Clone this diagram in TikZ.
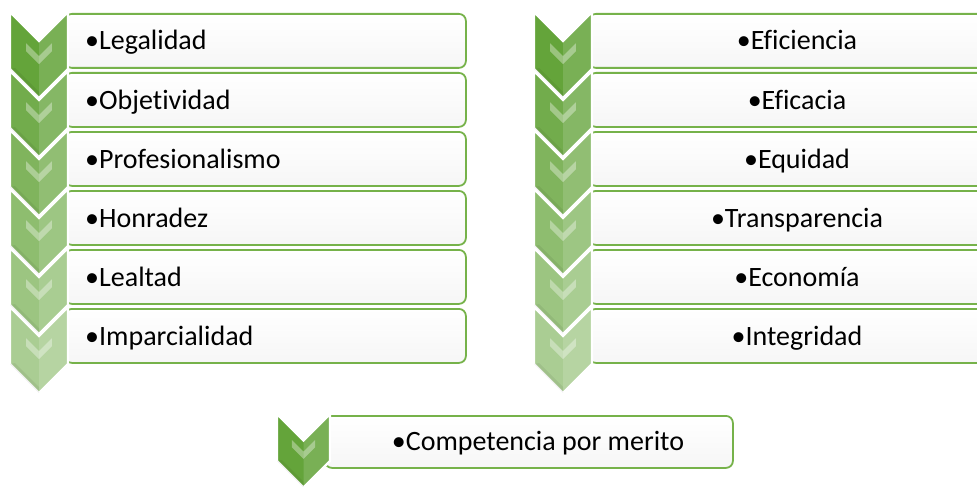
\documentclass[tikz,border=0pt]{standalone}
\usepackage{fontspec}
\setmainfont{Carlito}[Ligatures=NoCommon]
\definecolor{chevgreen}{RGB}{100,164,58}
\definecolor{boxgreen}{RGB}{118,178,74}
% a chevron: left, top, width, side height, fill
\newcommand\Chev[5]{%
	\filldraw[fill=#5,draw=white,line width=2.4pt]
	(#1,#2) -- ++(#3/2,#3/2) -- ++(#3/2,-#3/2) -- ++(0,#4)
	-- ++(-#3/2,#3/2) -- ++(-#3/2,-#3/2) -- cycle;
	\fill[white,opacity=0.14] (#1+#3/2,#2+#3/2) -- (#1+#3,#2) -- (#1+#3,#2+#4)
	-- (#1+#3/2,#2+#4+#3/2) -- cycle;
	\fill[black,opacity=0.06] (#1,#2+#4) -- (#1+#3/2,#2+#4+#3/2)
	-- (#1+#3/2,#2+#4+#3/2-6) -- (#1+5,#2+#4-1) -- cycle;
	\fill[white,opacity=0.35] (#1+0.28*#3,#2+0.55*#4) -- ++(0.22*#3,0.22*#3)
	-- ++(0.22*#3,-0.22*#3) -- ++(0,0.14*#3) -- ++(-0.22*#3,0.22*#3)
	-- ++(-0.22*#3,-0.22*#3) -- cycle;
}

\begin{document}
\begin{tikzpicture}[x=1pt,y=-1pt,
	itembox/.style={draw=boxgreen,line width=1.8pt,rounded corners=7pt,
		top color=white,bottom color=gray!7,anchor=north west,
		minimum height=54pt,inner sep=0pt},
	itemtext/.style={font=\fontsize{28}{32}\selectfont,inner sep=0pt}]
	
	\useasboundingbox (0,0) rectangle (977,487);
	\clip (0,0) rectangle (977,487);
	
	% we draw the boxes of both columns
	\foreach \i in {0,...,5}
	{
		\node[itembox,minimum width=401pt] (lbox\i) at (64,13+59*\i) {};
		\node[itembox,minimum width=419pt] (rbox\i) at (588,13+59*\i) {};
	}
	% we draw the bottom box
	\node[itembox,minimum width=408pt,minimum height=52pt] (cbox) at (324,415) {};
	
	% we draw the chevrons, getting lighter to the bottom
	\foreach \i in {0,...,5}
	{
		\pgfmathsetmacro\tint{100-9*\i}
		\Chev{10}{12+59*\i}{58}{57}{chevgreen!\tint!white}
		\Chev{534}{12+59*\i}{58}{57}{chevgreen!\tint!white}
	}
	\Chev{277}{414}{53}{47}{chevgreen}
	
	% we place the texts
	\foreach \txt [count=\i from 0] in {Legalidad,Objetividad,Profesionalismo,
		Honradez,Lealtad,Imparcialidad}
	\node[itemtext,anchor=base west] (ltxt\i) at (85,50+59*\i) {•\txt};
	\foreach \txt [count=\i from 0] in {Eficiencia,Eficacia,Equidad,
		Transparencia,Economía,Integridad}
	\node[itemtext,anchor=base] (rtxt\i) at (797,50+59*\i) {•\txt};
	\node[itemtext,anchor=base] (ctxt) at (538,450) {•Competencia por merito};
\end{tikzpicture}
\end{document}
